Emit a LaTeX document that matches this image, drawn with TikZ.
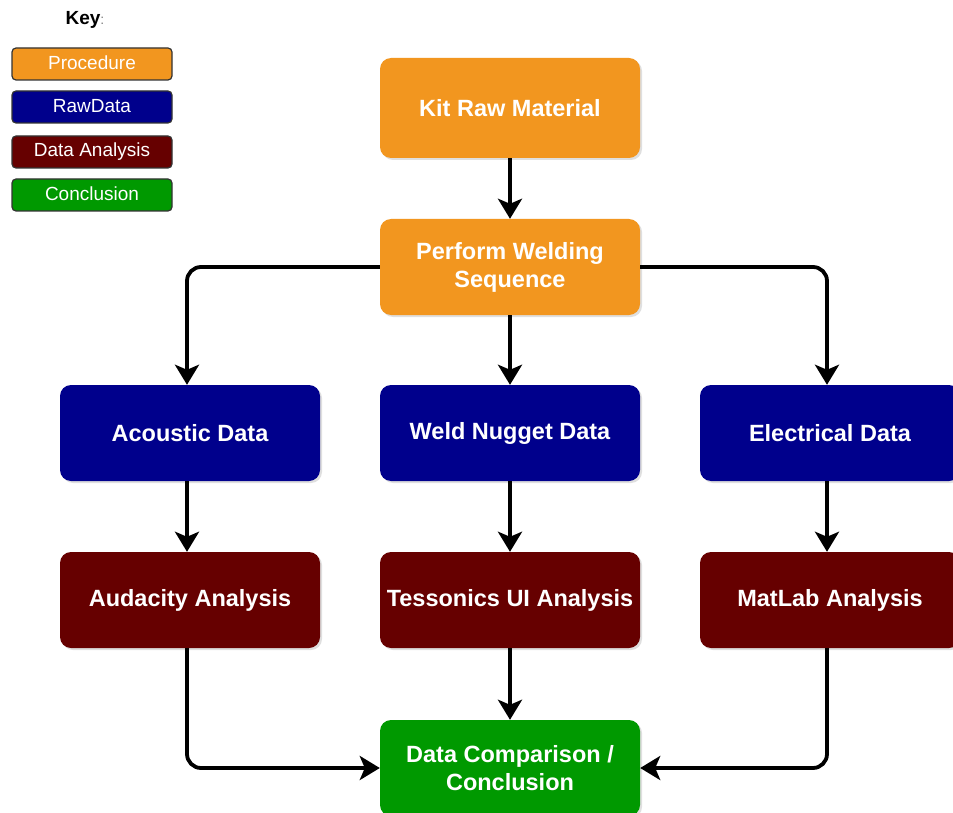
\documentclass[tikz,border=0pt]{standalone}
\usepackage{fontspec}
\setmainfont{Liberation Sans}
\usetikzlibrary{arrows.meta,shadows}
\definecolor{procC}{HTML}{F2961F}
\definecolor{rawC}{HTML}{00008C}
\definecolor{anaC}{HTML}{660000}
\definecolor{conC}{HTML}{009900}
\definecolor{keyB}{HTML}{333333}
\begin{document}
\begin{tikzpicture}[x=1pt,y=-1pt,
  box/.style={rounded corners=11pt, minimum width=260pt, minimum height=96pt, align=center,
    text=white, font=\fontsize{23.5}{28}\selectfont\bfseries, inner sep=2pt,
    drop shadow={shadow xshift=2pt, shadow yshift=-2pt, opacity=0.25}},
  proc/.style={box, fill=procC},
  raw/.style={box, fill=rawC},
  ana/.style={box, fill=anaC},
  con/.style={box, fill=conC},
  keybox/.style={rounded corners=4pt, draw=keyB, line width=1.2pt, minimum width=160pt, minimum height=32pt,
    text=white, font=\fontsize{19}{22}\selectfont, inner sep=1pt},
  arr/.style={line width=3.8pt, rounded corners=14pt, -{Stealth[length=20pt, width=24pt, inset=5pt]}}
]
\useasboundingbox (0,0) rectangle (953,813);
\fill[white] (0,0) rectangle (953,813);

% key
\node[font=\fontsize{19}{22}\selectfont\bfseries] (keyt) at (85,20) {Key\textcolor{gray}{\mdseries\fontsize{14}{16}\selectfont:}};
\node[keybox, fill=procC] (k1) at (92,64) {\raisebox{2pt}{Procedure}};
\node[keybox, fill=rawC] (k2) at (92,107) {\raisebox{2pt}{RawData}};
\node[keybox, fill=anaC] (k3) at (92,152) {\raisebox{2pt}{Data Analysis}};
\node[keybox, fill=conC] (k4) at (92,195) {\raisebox{2pt}{Conclusion}};

% main nodes
\node[proc, minimum height=100pt] (kit) at (510,108) {Kit Raw Material};
\node[proc] (weld) at (510,267) {Perform Welding\\Sequence};
\node[raw] (acou) at (190,433) {Acoustic Data};
\node[raw] (nug) at (510,433) {Weld Nugget Data\vphantom{A}};
\node[raw] (elec) at (830,433) {Electrical Data};
\node[ana] (aud) at (190,600) {Audacity Analysis};
\node[ana] (tes) at (510,600) {Tessonics UI Analysis};
\node[ana] (mat) at (830,600) {MatLab Analysis};
\node[con] (conc) at (510,768) {Data Comparison /\\Conclusion};

% connectors
\draw[arr] (kit) -- (weld);
\draw[arr] (weld.west) -| ([xshift=-3pt]acou.north);
\draw[arr] (weld) -- (nug);
\draw[arr] (weld.east) -| ([xshift=-3pt]elec.north);
\draw[arr] ([xshift=-3pt]acou.south) -- ([xshift=-3pt]aud.north);
\draw[arr] (nug) -- (tes);
\draw[arr] ([xshift=-3pt]elec.south) -- ([xshift=-3pt]mat.north);
\draw[arr] ([xshift=-3pt]aud.south) |- (conc.west);
\draw[arr] (tes) -- (conc);
\draw[arr] ([xshift=-3pt]mat.south) |- (conc.east);
\end{tikzpicture}
\end{document}
